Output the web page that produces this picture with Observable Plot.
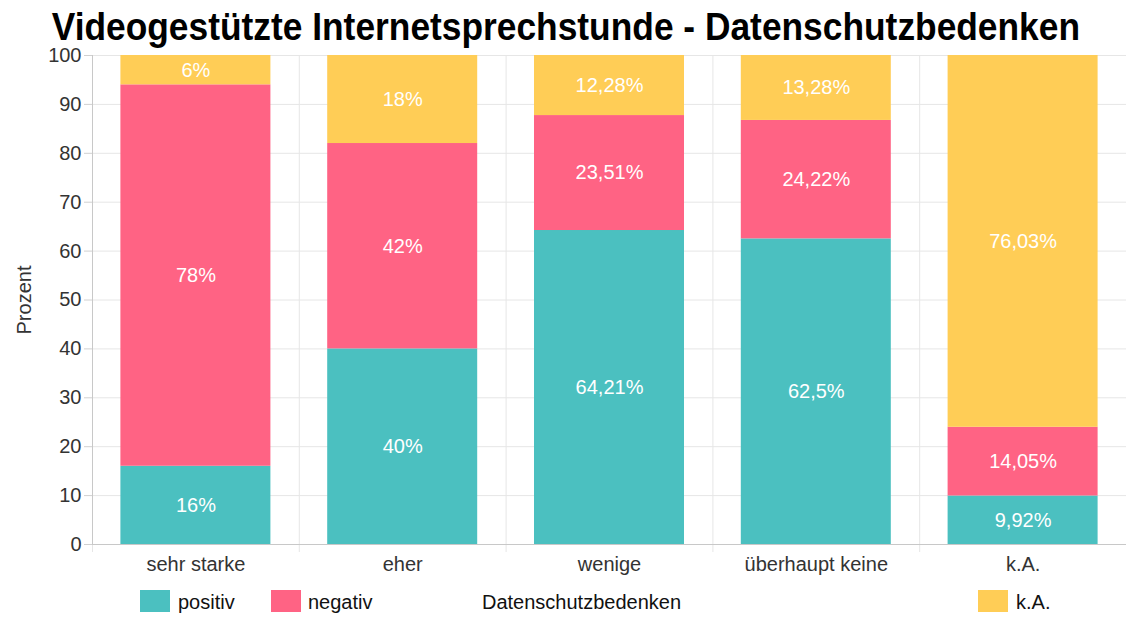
<!DOCTYPE html>
<html><head><meta charset="utf-8">
<script src="https://cdn.jsdelivr.net/npm/d3@7"></script>
<script src="https://cdn.jsdelivr.net/npm/@observablehq/plot@0.6"></script>
<style>
body{margin:0;background:#fff;font-family:"Liberation Sans",Arial,sans-serif;}
#wrap{position:relative;width:1126px;height:617px;overflow:hidden;}
#title{position:absolute;left:0;top:10px;width:1126px;height:34px;text-align:center;font-weight:bold;font-size:38px;line-height:34px;color:#000;white-space:nowrap;}
#title span{display:inline-block;transform:scaleX(0.93);transform-origin:center;position:relative;left:3px;}
#chart{position:absolute;left:0;top:40px;}
.sw{position:absolute;width:30px;height:22px;top:590px;}
.lt{position:absolute;top:590px;font-size:20px;line-height:24px;color:#111;}
</style></head>
<body>
<div id="wrap">
  <div id="title"><span>Videogestützte Internetsprechstunde - Datenschutzbedenken</span></div>
  <div id="chart"></div>
  <div id="legend"></div>
</div>
<script>
const categories = ["sehr starke", "eher", "wenige", "überhaupt keine", "k.A."];
const seriesNames = ["positiv", "negativ", "k.A."];
const positiv = [16, 40, 64.21, 62.5, 9.92];
const negativ = [78, 42, 23.51, 24.22, 14.05];
const kA = [6, 18, 12.28, 13.28, 76.03];
const yTicks = [0, 10, 20, 30, 40, 50, 60, 70, 80, 90, 100];
const colors = ["#4BC0C0", "#FF6384", "#FFCD56"];

const seriesValues = [positiv, negativ, kA];
const data = [];
categories.forEach((c, i) => {
  seriesNames.forEach((s, k) => data.push({i, category: c, series: s, value: seriesValues[k][i]}));
});
const fmt = v => String(v).replace(".", ",") + "%";
const edges = d3.range(categories.length + 1);
const centers = categories.map((c, i) => i + 0.5);

const chart = Plot.plot({
  width: 1126,
  height: 544,
  marginTop: 15,
  marginLeft: 92,
  marginRight: 0,
  marginBottom: 40,
  style: {fontFamily: "Liberation Sans, Arial, sans-serif", fontSize: "20px", color: "#333", background: "transparent", overflow: "visible"},
  x: {type: "linear", domain: [0, categories.length], axis: null},
  y: {domain: [0, 100], axis: null},
  color: {domain: seriesNames, range: colors},
  marks: [
    Plot.gridY(yTicks, {stroke: "#e6e6e6", strokeOpacity: 1}),
    Plot.ruleX(edges, {stroke: "#e6e6e6", strokeOpacity: 1}),
    Plot.axisX({ticks: edges, tickSize: 8, tickFormat: () => "", stroke: "#e6e6e6", strokeOpacity: 1, label: null}),
    Plot.rectY(data, Plot.stackY({x1: "i", x2: d => d.i + 1, y: "value", z: "series", fill: "series", insetLeft: 28.4, insetRight: 28.4})),
    Plot.text(data, Plot.stackY({x: d => d.i + 0.5, y: "value", z: "series", text: d => fmt(d.value), fill: "white", fontSize: 20})),
    Plot.axisY({ticks: yTicks, tickSize: 8, tickPadding: 3, stroke: "#d0d0d0", label: "Prozent", labelAnchor: "center", labelArrow: "none", labelOffset: 76, fill: "#333"}),
    Plot.axisX({ticks: centers, tickSize: 0, tickPadding: 12, tickFormat: v => categories[Math.floor(v)], label: null, fill: "#333"}),
    Plot.ruleX([0], {stroke: "#c8c8c8"}),
    Plot.ruleY([0], {stroke: "#c8c8c8"})
  ]
});
document.getElementById("chart").appendChild(chart);

const legend = document.getElementById("legend");
const items = [
  {type: "sw", left: 140, color: colors[0]},
  {type: "lt", left: 178, text: seriesNames[0]},
  {type: "sw", left: 271, color: colors[1]},
  {type: "lt", left: 308, text: seriesNames[1]},
  {type: "lt", left: 482, text: "Datenschutzbedenken"},
  {type: "sw", left: 978, color: colors[2]},
  {type: "lt", left: 1016, text: seriesNames[2]}
];
items.forEach(it => {
  const el = document.createElement("div");
  el.className = it.type;
  el.style.left = it.left + "px";
  if (it.color) el.style.background = it.color;
  if (it.text) el.textContent = it.text;
  legend.appendChild(el);
});
</script>
</body></html>
